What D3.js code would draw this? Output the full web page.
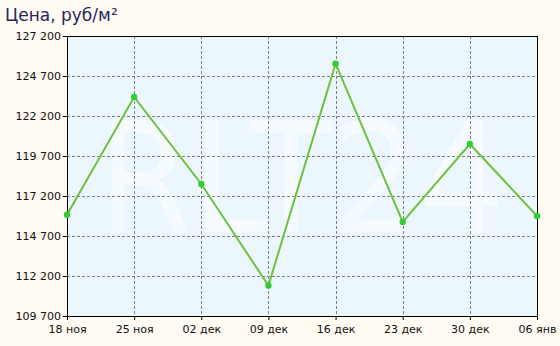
<!DOCTYPE html>
<html lang="ru">
<head>
<meta charset="UTF-8">
<title>Цена, руб/м²</title>
<style>
    body { margin: 0; background: #fffaf2; }
    svg { display: block; font-family: 'DejaVu Sans', Verdana, sans-serif; }
    .tick text { font-size: 11px; fill: #111; }
</style>
<script src="https://cdn.jsdelivr.net/npm/d3@7"></script>
</head>
<body>
<div id="chart"></div>
<script>
    const dates = ["18 ноя", "25 ноя", "02 дек", "09 дек", "16 дек", "23 дек", "30 дек", "06 янв"];
    const prices = [116030, 123390, 117950, 111600, 125470, 115580, 120450, 115950];
    const yTicks = [109700, 112200, 114700, 117200, 119700, 122200, 124700, 127200];

    const width = 560, height = 346;
    const margin = { top: 36, right: 23, bottom: 30, left: 67 };
    const innerW = width - margin.left - margin.right;
    const innerH = height - margin.top - margin.bottom;

    const svg = d3.select("#chart").append("svg")
        .attr("width", width)
        .attr("height", height);

    svg.append("rect").attr("width", width).attr("height", height).attr("fill", "#fffaf2");

    svg.append("text")
        .attr("x", 5).attr("y", 21)
        .attr("font-size", 17)
        .attr("fill", "#26265e")
        .text("Цена, руб/м²");

    const g = svg.append("g").attr("transform", `translate(${margin.left},${margin.top})`);

    const x = d3.scalePoint().domain(dates).range([0, innerW]);
    const y = d3.scaleLinear().domain([109700, 127200]).range([innerH, 0]);

    g.append("rect").attr("width", innerW).attr("height", innerH).attr("fill", "#ebf7fd");

    // watermark
    g.append("text")
        .attr("x", 31).attr("y", 196)
        .attr("font-size", 154)
        .attr("textLength", 407)
        .attr("lengthAdjust", "spacingAndGlyphs")
        .attr("fill", "#f6fbff")
        .text("RLT24");

    // grid
    g.append("g").selectAll("line").data(yTicks.slice(1, -1)).join("line")
        .attr("x1", 0).attr("x2", innerW)
        .attr("y1", d => Math.round(y(d)) + 0.5).attr("y2", d => Math.round(y(d)) + 0.5)
        .attr("stroke", "#808080").attr("stroke-dasharray", "3,2");
    g.append("g").selectAll("line").data(dates.slice(1, -1)).join("line")
        .attr("x1", d => Math.round(x(d)) + 0.5).attr("x2", d => Math.round(x(d)) + 0.5)
        .attr("y1", 0).attr("y2", innerH)
        .attr("stroke", "#808080").attr("stroke-dasharray", "3,2");

    // frame
    g.append("rect").attr("x", 0.5).attr("y", 0.5)
        .attr("width", innerW).attr("height", innerH)
        .attr("fill", "none").attr("stroke", "#000");

    const yAxis = g.append("g")
        .call(d3.axisLeft(y).tickValues(yTicks).tickSize(4).tickPadding(2)
            .tickFormat(d => d3.format(",")(d).replace(",", " ")));
    const xAxis = g.append("g").attr("transform", `translate(0,${innerH})`)
        .call(d3.axisBottom(x).tickSize(4).tickPadding(5));
    [yAxis, xAxis].forEach(a => {
        a.select(".domain").attr("stroke", "#000");
        a.selectAll(".tick line").attr("stroke", "#000");
        a.selectAll(".tick text").attr("font-family", "'DejaVu Sans', Verdana, sans-serif");
    });

    const data = dates.map((d, i) => ({ date: d, price: prices[i] }));

    g.append("path").datum(data)
        .attr("fill", "none")
        .attr("stroke", "#6cc23a")
        .attr("stroke-width", 2)
        .attr("d", d3.line().x(d => x(d.date)).y(d => y(d.price)));

    g.append("g").selectAll("circle").data(data).join("circle")
        .attr("cx", d => x(d.date)).attr("cy", d => y(d.price))
        .attr("r", 3.2)
        .attr("fill", "#33cc33");
</script>
</body>
</html>
